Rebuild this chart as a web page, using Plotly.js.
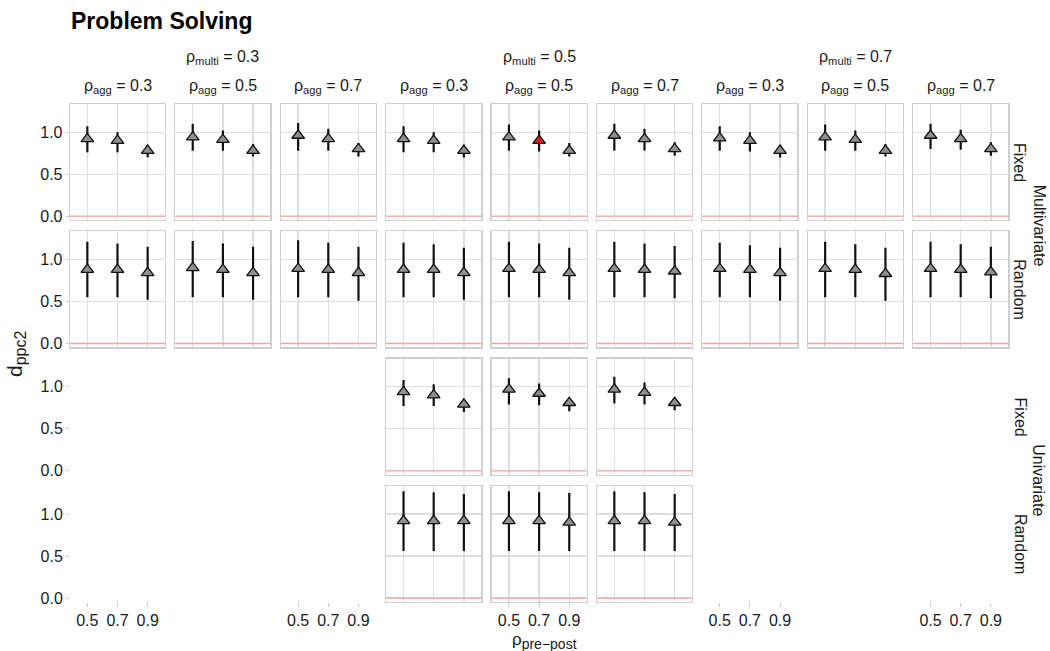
<!DOCTYPE html>
<html>
<head>
<meta charset="utf-8">
<script src="https://cdn.plot.ly/plotly-3.0.1.min.js"></script>
<style>html,body{margin:0;padding:0;background:#fff;}#chart{width:1050px;height:651px;}</style>
</head>
<body>
<div id="chart"></div>
<script>
// ---------- DATA ----------
const prePost = [0.5, 0.7, 0.9];
const multiLabels = ['0.3', '0.5', '0.7'];
const aggLabels = ['0.3', '0.5', '0.7'];
const rowLabels = ['Fixed', 'Random', 'Fixed', 'Random'];
const groupLabels = ['Multivariate', 'Univariate'];

// Multivariate, Fixed (9 panels: multi 0.3/0.5/0.7 x agg 0.3/0.5/0.7)
const multiFixedEst = [
  [0.92, 0.90, 0.78], [0.94, 0.91, 0.78], [0.96, 0.92, 0.80],
  [0.92, 0.90, 0.78], [0.94, 0.90, 0.78], [0.96, 0.92, 0.80],
  [0.93, 0.90, 0.78], [0.94, 0.91, 0.78], [0.96, 0.92, 0.80]
];
const multiFixedHi = [
  [1.07, 1.00, 0.85], [1.10, 1.02, 0.86], [1.11, 1.04, 0.87],
  [1.07, 1.00, 0.85], [1.09, 1.02, 0.87], [1.10, 1.04, 0.88],
  [1.07, 1.00, 0.85], [1.09, 1.02, 0.86], [1.10, 1.03, 0.88]
];
const multiFixedLo = [
  [0.76, 0.76, 0.70], [0.78, 0.78, 0.71], [0.78, 0.78, 0.71],
  [0.76, 0.76, 0.70], [0.78, 0.77, 0.71], [0.78, 0.78, 0.72],
  [0.78, 0.77, 0.70], [0.78, 0.78, 0.71], [0.80, 0.79, 0.72]
];
// Multivariate, Random
const multiRandomEst = [
  [0.88, 0.88, 0.84], [0.90, 0.88, 0.84], [0.89, 0.88, 0.84],
  [0.88, 0.88, 0.84], [0.89, 0.88, 0.84], [0.89, 0.88, 0.86],
  [0.89, 0.88, 0.84], [0.89, 0.88, 0.83], [0.89, 0.88, 0.85]
];
const multiRandomHi = [
  [1.21, 1.19, 1.15], [1.22, 1.19, 1.15], [1.23, 1.20, 1.15],
  [1.20, 1.18, 1.14], [1.21, 1.19, 1.14], [1.21, 1.19, 1.16],
  [1.20, 1.17, 1.14], [1.21, 1.18, 1.14], [1.21, 1.18, 1.15]
];
const multiRandomLo = [
  [0.55, 0.55, 0.52], [0.55, 0.55, 0.52], [0.55, 0.55, 0.51],
  [0.55, 0.55, 0.52], [0.55, 0.55, 0.52], [0.55, 0.55, 0.54],
  [0.55, 0.55, 0.51], [0.55, 0.55, 0.51], [0.55, 0.55, 0.54]
];
// Univariate (only multi = 0.5 x agg 0.3/0.5/0.7)
const uniFixedEst = [[0.94, 0.90, 0.79], [0.97, 0.92, 0.81], [0.97, 0.93, 0.81]];
const uniFixedHi  = [[1.08, 1.03, 0.85], [1.10, 1.04, 0.86], [1.12, 1.05, 0.87]];
const uniFixedLo  = [[0.77, 0.77, 0.70], [0.79, 0.78, 0.71], [0.80, 0.79, 0.72]];
const uniRandomEst = [[0.92, 0.92, 0.92], [0.92, 0.92, 0.90], [0.92, 0.92, 0.90]];
const uniRandomHi  = [[1.27, 1.26, 1.24], [1.27, 1.26, 1.25], [1.27, 1.26, 1.24]];
const uniRandomLo  = [[0.56, 0.56, 0.56], [0.56, 0.56, 0.56], [0.56, 0.56, 0.56]];

// highlighted point: Multivariate Fixed, multi 0.5, agg 0.5, pre-post 0.7
const highlightRow = 0, highlightCol = 4, highlightPoint = 1;

// ---------- LAYOUT HELPERS ----------
const W = 1050, H = 651;
const colLeft0 = 70, colStep = 105.4, colW = 95;
const rowTop0 = 104, rowStep = 127.3, rowH = 116;
const fx = p => p / W;
const fy = p => 1 - p / H;

const rowsData = [
  {est: multiFixedEst, hi: multiFixedHi, lo: multiFixedLo, cols: [0,1,2,3,4,5,6,7,8]},
  {est: multiRandomEst, hi: multiRandomHi, lo: multiRandomLo, cols: [0,1,2,3,4,5,6,7,8]},
  {est: uniFixedEst, hi: uniFixedHi, lo: uniFixedLo, cols: [3,4,5]},
  {est: uniRandomEst, hi: uniRandomHi, lo: uniRandomLo, cols: [3,4,5]}
];

const gridColor = '#dedede';
const borderColor = '#cfcfcf';
const font = 'Liberation Sans, Arial, Helvetica, sans-serif';

const traces = [];
const layout = {
  width: W, height: H,
  margin: {l: 0, r: 0, t: 0, b: 0},
  paper_bgcolor: '#fff', plot_bgcolor: '#fff',
  showlegend: false,
  font: {family: font, size: 16, color: '#1a1a1a'},
  shapes: [], annotations: []
};

for (let r = 0; r < 4; r++) {
  for (let c = 0; c < 9; c++) {
    const idx = r * 9 + c + 1;
    const xr = idx === 1 ? 'x' : 'x' + idx;
    const yr = idx === 1 ? 'y' : 'y' + idx;
    const xk = idx === 1 ? 'xaxis' : 'xaxis' + idx;
    const yk = idx === 1 ? 'yaxis' : 'yaxis' + idx;
    const pi = rowsData[r].cols.indexOf(c);
    const present = pi >= 0;
    const left = colLeft0 + c * colStep;
    const top = rowTop0 + r * rowStep;
    const showX = (r === 3) && (c % 2 === 0);
    const showY = (c === 0);

    layout[xk] = {
      domain: [fx(left), fx(left + colW)],
      anchor: yr,
      range: [0.385, 1.015],
      tickvals: prePost,
      tickformat: '.1f',
      showgrid: present, gridcolor: gridColor, gridwidth: 1.3,
      zeroline: false,
      showline: present, mirror: true, linecolor: borderColor, linewidth: 1.3,
      showticklabels: showX,
      ticks: showX ? 'outside' : '', ticklen: 4, tickcolor: '#c8c8c8', tickwidth: 1,
      tickfont: {size: 16, color: '#1a1a1a', family: font},
      fixedrange: true
    };
    layout[yk] = {
      domain: [fy(top + rowH), fy(top)],
      anchor: xr,
      range: [-0.045, 1.335],
      tickvals: [0, 0.5, 1.0],
      tickformat: '.1f',
      showgrid: present, gridcolor: gridColor, gridwidth: 1.3,
      zeroline: false,
      showline: present, mirror: true, linecolor: borderColor, linewidth: 1.3,
      showticklabels: showY,
      ticks: showY ? 'outside' : '', ticklen: 3, tickcolor: '#c8c8c8', tickwidth: 1,
      tickfont: {size: 16, color: '#1a1a1a', family: font},
      fixedrange: true
    };

    if (!present) {
      traces.push({type: 'scatter', mode: 'markers', x: [], y: [], xaxis: xr, yaxis: yr, hoverinfo: 'skip'});
      continue;
    }

    const est = rowsData[r].est[pi], hi = rowsData[r].hi[pi], lo = rowsData[r].lo[pi];
    const colors = est.map((_, k) => (r === highlightRow && c === highlightCol && k === highlightPoint) ? '#e3191c' : '#8f8f8f');

    layout.shapes.push({
      type: 'line', xref: xr + ' domain', x0: 0, x1: 1, yref: yr, y0: 0, y1: 0,
      line: {color: '#f2a3a3', width: 1.3}
    });

    traces.push({
      type: 'scatter', mode: 'markers',
      x: prePost, y: est, xaxis: xr, yaxis: yr,
      error_y: {
        type: 'data', symmetric: false,
        array: hi.map((h, k) => h - est[k]),
        arrayminus: lo.map((l, k) => est[k] - l),
        color: '#111', thickness: 2.2, width: 0
      },
      marker: {symbol: 'triangle-up', size: 11, color: colors, line: {color: '#111', width: 1.3}},
      hoverinfo: 'x+y'
    });
  }
}

// column strips
for (let c = 0; c < 9; c++) {
  const cx = colLeft0 + c * colStep + colW / 2;
  layout.annotations.push({
    xref: 'paper', yref: 'paper', x: fx(cx), y: fy(87), xanchor: 'center', yanchor: 'middle',
    text: 'ρ<sub>agg</sub> = ' + aggLabels[c % 3], showarrow: false, font: {size: 16}
  });
}
for (let m = 0; m < 3; m++) {
  const cx = colLeft0 + (m * 3 + 1) * colStep + colW / 2;
  layout.annotations.push({
    xref: 'paper', yref: 'paper', x: fx(cx), y: fy(58), xanchor: 'center', yanchor: 'middle',
    text: 'ρ<sub>multi</sub> = ' + multiLabels[m], showarrow: false, font: {size: 16}
  });
}
// row strips
for (let r = 0; r < 4; r++) {
  const cy = rowTop0 + r * rowStep + rowH / 2;
  layout.annotations.push({
    xref: 'paper', yref: 'paper', x: fx(1020), y: fy(cy), xanchor: 'center', yanchor: 'middle',
    text: rowLabels[r], textangle: 90, showarrow: false, font: {size: 16}
  });
}
for (let g = 0; g < 2; g++) {
  const cy = rowTop0 + (g * 2) * rowStep + (rowStep + rowH) / 2;
  layout.annotations.push({
    xref: 'paper', yref: 'paper', x: fx(1039), y: fy(cy), xanchor: 'center', yanchor: 'middle',
    text: groupLabels[g], textangle: 90, showarrow: false, font: {size: 16}
  });
}
// title & axis titles
layout.annotations.push({
  xref: 'paper', yref: 'paper', x: fx(69), y: fy(21), xanchor: 'left', yanchor: 'middle',
  text: '<b>Problem Solving</b>', showarrow: false, font: {size: 23, color: '#000'}
});
layout.annotations.push({
  xref: 'paper', yref: 'paper', x: fx(16), y: fy(354), xanchor: 'center', yanchor: 'middle',
  text: 'd<sub><span style="font-size:16px">ppc2</span></sub>', textangle: -90, showarrow: false, font: {size: 21}
});
layout.annotations.push({
  xref: 'paper', yref: 'paper', x: fx(544), y: fy(641), xanchor: 'center', yanchor: 'middle',
  text: 'ρ<sub><span style="font-size:14px">pre−post</span></sub>', showarrow: false, font: {size: 17}
});

Plotly.newPlot('chart', traces, layout, {displayModeBar: false, staticPlot: true});
</script>
</body>
</html>
